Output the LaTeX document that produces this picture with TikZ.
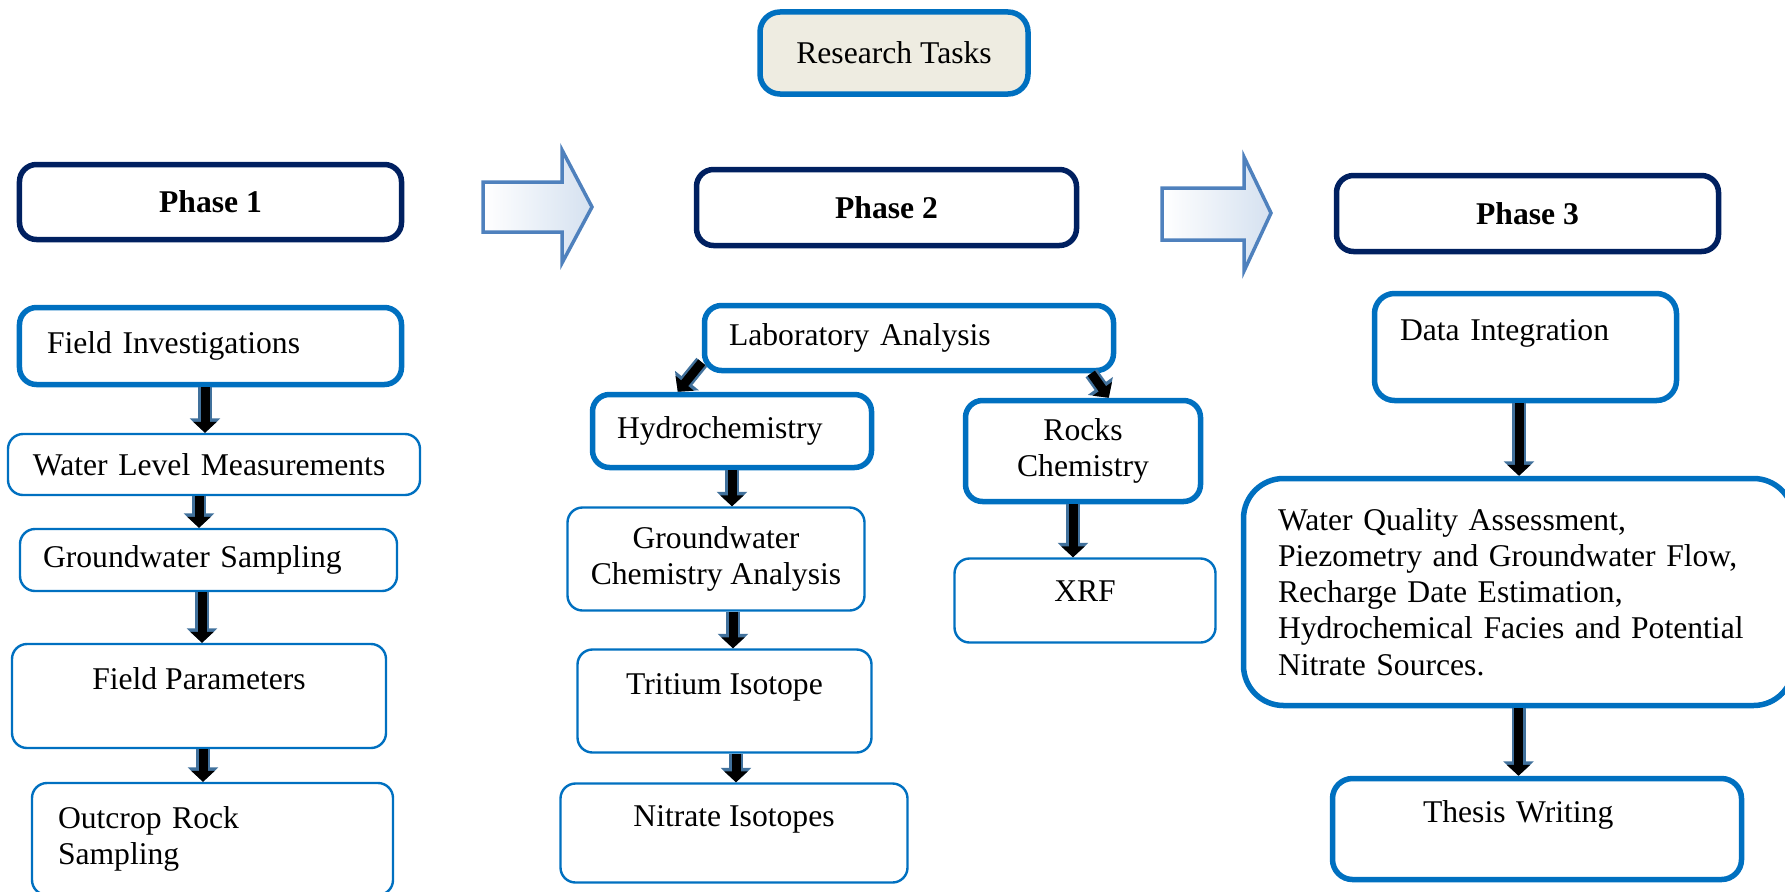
\documentclass[tikz,border=0pt]{standalone}
\usepackage{fontspec}
\setmainfont{Liberation Serif}
\usetikzlibrary{arrows.meta}
\definecolor{boxblue}{HTML}{0070C0}
\definecolor{phasenavy}{HTML}{002060}
\definecolor{arrowedge}{HTML}{41719C}
\definecolor{bigedge}{HTML}{4F81BD}
\definecolor{bigfill}{HTML}{D5E1F0}
\definecolor{tasksfill}{HTML}{EEECE1}
\tikzset{
  box/.style={draw=boxblue, fill=white, line width=0.024cm, rounded corners=0.15cm, inner sep=0pt},
  boldbox/.style={box, line width=0.055cm, rounded corners=0.17cm},
  phasebox/.style={boldbox, draw=phasenavy, font=\fontsize{9}{10.3}\selectfont\bfseries},
  toptext/.style={text height=0.22cm, text depth=0.36cm},
  downarrow/.style={draw=black, line width=0.09cm, -{Triangle[width=0.23cm,length=0.11cm]},
    preaction={draw=arrowedge, line width=0.14cm, -{Triangle[width=0.30cm,length=0.145cm]}}},
  bigarrow/.style={draw=bigedge, line width=0.035cm, line join=miter, left color=white, right color=bigfill}
}
\begin{document}
\begin{tikzpicture}[font=\fontsize{9}{10.3}\selectfont]
\useasboundingbox (0,0) rectangle (17.85,8.91);

% Drawing box Research Tasks
\node[boldbox, fill=tasksfill, rounded corners=0.2cm, minimum width=2.68cm, minimum height=0.82cm] (tasks) at (8.94,8.38) {Research Tasks};%

% Drawing phase boxes
\node[phasebox, minimum width=3.82cm, minimum height=0.75cm] (phaseA) at (2.105,6.89) {Phase 1};%
\node[phasebox, minimum width=3.80cm, minimum height=0.76cm] (phaseB) at (8.865,6.835) {Phase 2};%
\node[phasebox, minimum width=3.82cm, minimum height=0.76cm] (phaseC) at (15.275,6.775) {Phase 3};%

% Drawing hollow arrows between phases
\path[bigarrow] (4.83,7.09) -- (5.62,7.09) -- (5.62,7.41) -- (5.92,6.84) -- (5.62,6.28) -- (5.62,6.59) -- (4.83,6.59) -- cycle;%
\path[bigarrow] (11.62,7.03) -- (12.44,7.03) -- (12.44,7.34) -- (12.71,6.78) -- (12.44,6.20) -- (12.44,6.51) -- (11.62,6.51) -- cycle;%

% Drawing column of phase 1
\node[boldbox, minimum width=3.82cm, minimum height=0.77cm, text width=3.27cm, align=left] (field) at (2.105,5.45) {Field Investigations};%
\node[box, minimum width=4.12cm, minimum height=0.61cm, text width=3.62cm, align=left] (level) at (2.14,4.265) {Water Level Measurements};%
\node[box, minimum width=3.77cm, minimum height=0.62cm, text width=3.31cm, align=left] (sampling) at (2.085,3.31) {Groundwater Sampling};%
\node[box, toptext, minimum width=3.74cm, minimum height=1.04cm] (params) at (1.99,1.95) {Field Parameters};%
\node[box, minimum width=3.61cm, minimum height=1.12cm, text width=3.09cm, align=left] (outcrop) at (2.125,0.52) {Outcrop Rock\\Sampling};%

% Drawing column of phase 2
\node[boldbox, minimum width=4.09cm, minimum height=0.65cm, text width=3.60cm, align=left] (lab) at (9.09,5.53) {Laboratory Analysis};%
\node[boldbox, minimum width=2.79cm, minimum height=0.73cm, text width=2.30cm, align=left] (hydro) at (7.32,4.60) {Hydrochemistry};%
\node[boldbox, minimum width=2.35cm, minimum height=1.01cm, align=center] (rocks) at (10.83,4.40) {Rocks\\Chemistry};%
\node[box, minimum width=2.97cm, minimum height=1.03cm, align=center] (gwchem) at (7.16,3.32) {Groundwater\\Chemistry Analysis};%
\node[box, text height=0.22cm, text depth=0.2cm, minimum width=2.61cm, minimum height=0.84cm] (xrf) at (10.85,2.905) {XRF};%
\node[box, toptext, minimum width=2.94cm, minimum height=1.03cm] (tritium) at (7.245,1.90) {Tritium Isotope};%
\node[box, toptext, minimum width=3.47cm, minimum height=0.99cm] (nitrate) at (7.34,0.58) {Nitrate Isotopes};%

% Drawing column of phase 3
\node[boldbox, toptext, rounded corners=0.2cm, minimum width=3.02cm, minimum height=1.07cm, text width=2.51cm, align=left] (integ) at (15.255,5.44) {Data Integration};%
\node[boldbox, rounded corners=0.4cm, minimum width=5.50cm, minimum height=2.27cm, text width=4.81cm, align=left] (quality) at (15.185,2.99) {Water Quality Assessment,\\Piezometry and Groundwater Flow,\\Recharge Date Estimation,\\Hydrochemical Facies and Potential\\Nitrate Sources.};%
\node[boldbox, toptext, rounded corners=0.2cm, minimum width=4.09cm, minimum height=1.01cm, text width=2.28cm, align=left] (thesis) at (15.37,0.62) {Thesis Writing};%

% Drawing small arrows
\draw[downarrow] ([xshift=-0.055cm]field.south) -- ([xshift=-0.055cm]field.south |- level.north);%
\draw[downarrow] ([xshift=-0.15cm]level.south) -- ([xshift=-0.15cm]level.south |- sampling.north);%
\draw[downarrow] ([xshift=-0.065cm]sampling.south) -- ([xshift=-0.065cm]sampling.south |- params.north);%
\draw[downarrow] ([xshift=0.04cm]params.south) -- ([xshift=0.04cm]params.south |- outcrop.north);%
\draw[downarrow] ([yshift=0.11cm]lab.south west) -- ([xshift=0.88cm]hydro.north west);%
\draw[downarrow] ([xshift=-0.25cm]lab.south east) -- ([xshift=1.46cm]rocks.north west);%
\draw[downarrow] (hydro.south) -- (hydro.south |- gwchem.north);%
\draw[downarrow] ([xshift=0.17cm]gwchem.south) -- ([xshift=0.17cm]gwchem.south |- tritium.north);%
\draw[downarrow] ([xshift=0.115cm]tritium.south) -- ([xshift=0.115cm]tritium.south |- nitrate.north);%
\draw[downarrow] ([xshift=-0.1cm]rocks.south) -- ([xshift=-0.1cm]rocks.south |- xrf.north);%
\draw[downarrow] ([xshift=-0.065cm]integ.south) -- ([xshift=-0.065cm]integ.south |- quality.north);%
\draw[downarrow] (quality.south) -- (quality.south |- thesis.north);%
\end{tikzpicture}
\end{document}
